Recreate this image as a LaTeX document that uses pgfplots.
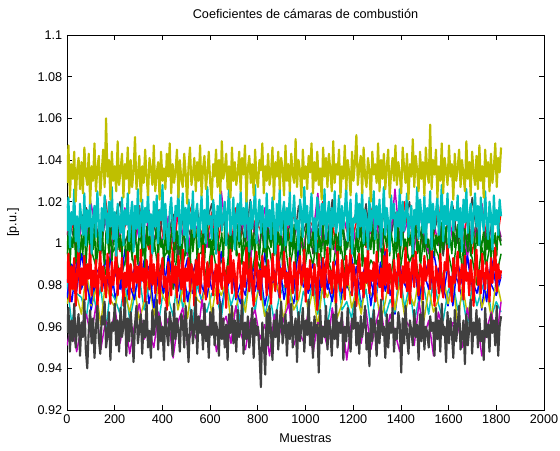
\documentclass[border=0pt]{standalone}
\usepackage{pgfplots}
\pgfplotsset{compat=1.18}
\usepackage{fontspec}
\setmainfont{Liberation Sans}
\definecolor{mb}{rgb}{0,0,1}
\definecolor{mg}{rgb}{0,0.5,0}
\definecolor{mr}{rgb}{1,0,0}
\definecolor{mc}{rgb}{0,0.75,0.75}
\definecolor{mm}{rgb}{0.75,0,0.75}
\definecolor{my}{rgb}{0.75,0.75,0}
\definecolor{mk}{rgb}{0.25,0.25,0.25}
\newcommand{\fs}{\fontsize{9.5}{11}\selectfont}
\begin{document}
\begin{tikzpicture}
\begin{axis}[
  name=ax,
  scale only axis,
  width=357.75pt, height=281.25pt,
  xmin=0, xmax=2000, ymin=0.92, ymax=1.1,
  xtick={0,200,...,2000},
  ytick={0.92,0.94,...,1.1},
  tick align=inside,
  major tick length=3.8pt,
  axis line style={line width=0.5pt},
  every tick/.style={black, line width=0.5pt},
  /pgf/number format/assume math mode=true,
  /pgf/number format/1000 sep={},
  yticklabel style={/pgf/number format/fixed, /pgf/number format/precision=2},
  tick label style={font=\fs},
  title={Coeficientes de cámaras de combustión},
  xlabel={Muestras},
  ylabel={[p.u.]},
  every axis title/.style={at={(axis description cs:0.5,1.056)}, anchor=center, font=\fs},
  every axis x label/.style={at={(axis description cs:0.5,-0.0747)}, anchor=center, font=\fs},
  every axis y label/.style={at={(axis description cs:-0.113,0.5)}, rotate=90, anchor=center, font=\fs},
  every axis plot/.append style={line width=1.1pt, line join=round},
  main/.style={line width=1.6pt},
  no markers,
]
% chamber 1
\addplot[mb] table[x expr=\coordindex*20.2222, y index=0, header=false] {
0.983
0.972
0.991
0.978
0.986
0.968
0.981
0.989
0.975
0.994
0.973
0.984
0.970
0.982
0.988
0.977
0.992
0.971
0.985
0.979
0.990
0.974
0.987
0.969
0.983
0.993
0.976
0.980
0.972
0.989
0.978
0.986
0.967
0.984
0.991
0.973
0.981
0.975
0.995
0.977
0.988
0.970
0.982
0.987
0.974
0.992
0.979
0.971
0.985
0.990
0.976
0.983
0.968
0.988
0.978
0.986
0.993
0.973
0.980
0.975
0.989
0.969
0.984
0.982
0.972
0.991
0.977
0.987
0.966
0.985
0.981
0.974
0.990
0.971
0.983
0.992
0.976
0.988
0.979
0.970
0.986
0.982
0.973
0.994
0.977
0.985
0.968
0.989
0.980
0.975
0.984
};
% chamber 2
\addplot[mg] table[x expr=\coordindex*20.2222, y index=0, header=false] {
0.996
0.987
0.992
1.001
0.980
0.997
0.989
1.006
0.985
0.994
0.998
0.982
0.991
1.000
0.988
1.004
0.995
0.983
1.002
0.986
0.993
0.997
0.978
0.999
0.989
1.003
0.984
0.994
0.996
0.981
1.001
0.987
0.992
0.985
1.005
0.998
0.990
1.000
0.980
0.995
0.988
1.002
0.997
0.983
0.991
1.004
0.986
0.999
0.994
0.982
1.000
0.989
1.007
0.987
0.993
0.985
1.003
0.996
0.979
0.998
0.990
1.001
0.984
0.992
0.988
1.005
0.995
0.981
0.999
0.986
1.002
0.991
0.997
0.983
1.004
0.989
1.000
0.994
0.982
0.996
0.985
1.006
0.987
1.001
0.993
0.980
0.998
0.990
1.003
0.984
0.995
};
% chamber 3
\addplot[mr] table[x expr=\coordindex*20.2222, y index=0, header=false] {
1.004
1.012
0.993
1.010
1.017
0.999
1.007
1.001
1.021
1.003
1.014
0.996
1.008
1.013
1.000
1.018
1.005
0.997
1.011
1.016
1.002
1.009
0.994
1.014
1.004
1.012
1.019
0.999
1.006
1.001
1.015
0.995
1.010
1.008
0.998
1.017
1.003
1.013
0.992
1.011
1.007
1.000
1.016
0.997
1.009
1.018
1.002
1.014
1.005
0.996
1.012
1.008
0.999
1.020
1.003
1.011
0.994
1.015
1.006
1.001
1.010
1.009
0.998
1.017
1.004
1.012
0.994
1.007
1.015
1.001
1.020
0.999
1.010
0.996
1.008
1.014
1.003
1.018
0.997
1.011
1.005
1.016
1.000
1.013
0.995
1.009
1.019
1.002
1.006
0.998
1.015
};
% chamber 4
\addplot[mc] table[x expr=\coordindex*20.2222, y index=0, header=false] {
0.981
0.961
0.976
0.974
0.964
0.983
0.969
0.979
0.958
0.977
0.973
0.966
0.982
0.963
0.975
0.984
0.968
0.980
0.971
0.962
0.978
0.974
0.965
0.986
0.969
0.977
0.960
0.981
0.972
0.967
0.976
0.975
0.964
0.983
0.970
0.978
0.960
0.973
0.981
0.967
0.986
0.965
0.976
0.962
0.974
0.980
0.969
0.984
0.963
0.977
0.971
0.982
0.966
0.979
0.961
0.975
0.985
0.968
0.972
0.964
0.981
0.970
0.978
0.959
0.976
0.983
0.965
0.973
0.967
0.987
0.969
0.980
0.962
0.974
0.979
0.966
0.984
0.971
0.963
0.977
0.982
0.968
0.975
0.960
0.980
0.970
0.978
0.985
0.965
0.972
0.967
};
% chamber 5
\addplot[mm] table[x expr=\coordindex*20.2222, y index=0, header=false] {
1.004
1.015
0.996
1.009
1.001
1.019
1.006
0.998
1.012
0.993
1.014
1.003
1.017
1.005
0.999
1.010
0.995
1.016
1.002
1.008
0.997
1.013
1.000
1.018
1.004
0.994
1.011
1.007
1.015
0.998
1.009
1.001
1.025
1.003
0.996
1.014
1.006
1.012
0.992
1.010
0.999
1.017
1.005
1.000
1.013
0.995
1.008
1.016
1.002
0.997
1.011
1.004
1.024
0.999
1.009
1.001
0.994
1.014
1.007
1.012
0.998
1.018
1.003
1.005
1.015
0.996
1.010
1.000
1.026
1.002
1.006
1.013
0.997
1.016
1.004
0.995
1.011
0.999
1.008
1.017
1.001
1.005
1.014
0.993
1.010
1.002
1.019
0.998
1.007
1.012
1.003
};
% chamber 6
\addplot[my] table[x expr=\coordindex*20.2222, y index=0, header=false] {
0.971
0.980
0.975
0.966
0.987
0.970
0.978
0.961
0.982
0.973
0.969
0.985
0.976
0.967
0.979
0.963
0.972
0.984
0.965
0.981
0.974
0.970
0.989
0.968
0.978
0.964
0.983
0.973
0.971
0.986
0.966
0.980
0.975
0.982
0.962
0.969
0.977
0.967
0.987
0.972
0.979
0.965
0.970
0.984
0.976
0.963
0.981
0.968
0.973
0.985
0.967
0.978
0.960
0.980
0.974
0.982
0.964
0.971
0.988
0.969
0.977
0.966
0.983
0.975
0.979
0.962
0.972
0.986
0.968
0.981
0.965
0.976
0.970
0.984
0.963
0.978
0.967
0.973
0.985
0.971
0.982
0.961
0.980
0.966
0.974
0.987
0.969
0.977
0.964
0.983
0.972
};
% chamber 7
\addplot[mk] table[x expr=\coordindex*20.2222, y index=0, header=false] {
1.019
1.006
0.998
1.012
1.017
1.003
1.010
0.995
1.015
1.005
1.013
1.020
1.000
1.007
1.002
1.016
0.996
1.011
1.009
0.999
1.018
1.004
1.014
0.993
1.012
1.008
1.001
1.017
0.998
1.010
1.019
1.003
1.015
1.006
0.997
1.013
1.009
1.000
1.021
1.004
1.012
0.995
1.016
1.007
1.002
1.011
1.010
0.999
1.018
1.005
1.013
0.995
1.008
1.016
1.002
1.021
1.000
1.011
0.997
1.009
1.015
1.004
1.019
0.998
1.012
1.006
1.017
1.001
1.014
0.996
1.010
1.020
1.003
1.007
0.999
1.016
1.005
1.013
0.994
1.011
1.018
1.000
1.008
1.002
1.022
1.004
1.015
0.997
1.009
1.014
1.001
};
% chamber 8
\addplot[mb] table[x expr=\coordindex*20.2222, y index=0, header=false] {
0.974
0.990
0.977
0.995
0.981
0.971
0.988
0.984
0.992
0.975
0.986
0.978
0.997
0.980
0.973
0.991
0.983
0.989
0.969
0.987
0.976
0.994
0.982
0.977
0.990
0.972
0.985
0.993
0.979
0.974
0.988
0.981
0.996
0.976
0.986
0.978
0.971
0.991
0.984
0.989
0.975
0.995
0.980
0.982
0.992
0.973
0.987
0.977
0.998
0.979
0.983
0.990
0.974
0.993
0.981
0.972
0.988
0.976
0.985
0.994
0.978
0.982
0.991
0.970
0.987
0.979
0.996
0.975
0.984
0.989
0.980
0.981
0.992
0.973
0.986
0.978
0.996
0.983
0.975
0.989
0.970
0.991
0.980
0.994
0.982
0.976
0.987
0.972
0.993
0.979
0.985
};
% chamber 9
\addplot[mg] table[x expr=\coordindex*6.06667, y index=0, header=false] {
0.995
1.007
0.988
1.003
0.998
1.010
0.991
1.001
1.006
0.993
1.004
0.996
1.011
0.989
1.000
1.008
0.992
1.005
0.997
1.009
0.987
1.002
1.007
0.994
1.012
0.999
0.990
1.006
1.003
0.995
1.009
0.991
1.001
1.005
0.988
1.010
0.997
1.004
0.993
1.008
1.000
0.989
1.006
0.996
1.011
0.992
1.003
1.007
0.998
0.990
1.005
1.010
0.994
1.001
0.987
1.008
0.999
1.004
0.992
1.012
0.996
1.003
1.009
0.990
1.006
0.998
1.002
0.988
1.010
0.995
1.007
0.993
1.004
1.011
0.991
1.000
1.006
0.997
1.009
0.989
1.002
1.008
0.994
1.005
0.999
0.986
1.010
0.996
1.003
1.007
0.992
1.001
1.009
0.995
1.006
0.990
1.004
1.011
0.998
1.002
0.988
1.007
0.997
1.003
1.010
0.993
1.000
1.005
0.991
1.008
0.999
1.004
0.989
1.012
0.996
1.002
1.007
0.994
1.009
0.998
1.006
0.990
1.003
1.008
0.995
1.001
0.987
1.010
0.997
1.005
0.993
1.009
1.000
0.992
1.006
1.011
0.996
1.003
0.989
1.007
1.002
0.998
1.010
0.994
1.005
0.991
1.008
0.999
1.004
0.988
1.011
0.996
1.001
1.007
0.993
1.004
0.997
1.009
0.990
1.003
1.006
0.992
1.008
1.000
0.987
1.005
1.010
0.995
1.002
0.998
1.009
0.994
1.004
0.989
1.007
1.001
0.996
1.012
0.993
1.003
0.999
1.006
0.991
1.010
0.997
1.002
1.008
0.988
1.005
0.995
1.004
1.009
0.992
1.001
0.998
1.011
0.994
1.006
1.000
0.990
1.007
0.996
1.003
1.010
0.989
1.005
0.999
1.008
0.993
1.002
0.997
1.011
0.995
1.004
1.006
0.991
1.009
1.000
0.987
1.007
1.003
0.998
1.010
0.994
1.005
1.001
0.992
1.008
0.996
1.012
0.990
1.004
1.007
0.997
1.002
0.993
1.009
0.999
1.006
0.988
1.005
1.010
0.995
1.001
0.991
1.008
1.003
0.996
1.011
0.998
1.002
0.989
1.006
1.009
0.994
1.004
0.999
1.007
0.992
1.010
0.997
1.003
1.008
0.990
1.005
1.001
0.995
1.011
0.998
1.004
1.009
0.993
1.000
1.006
0.988
1.007
1.002
0.996
1.010
0.994
1.003
1.008
0.991
1.005
0.999
1.012
0.995
1.001
1.006
0.990
1.007
0.997
1.004
0.992
1.009
1.000
1.005
0.994
1.008
1.002
0.999
};
% chamber 10
\addplot[mr, main] table[x expr=\coordindex*6.06667, y index=0, header=false] {
0.981
0.995
0.972
0.989
0.978
0.993
0.970
0.986
0.997
0.976
0.988
0.980
0.994
0.973
0.990
0.983
0.999
0.975
0.987
0.979
0.992
0.969
0.985
0.996
0.977
0.989
0.982
0.974
0.995
0.984
0.971
0.991
0.980
0.987
0.998
0.975
0.988
0.983
0.993
0.970
0.986
0.979
0.996
0.973
0.990
0.984
0.977
0.994
0.981
0.989
0.974
0.997
0.982
0.988
0.972
0.992
0.985
0.978
0.999
0.980
0.990
0.976
0.987
0.995
0.971
0.986
0.993
0.979
0.984
0.968
0.991
0.983
0.975
0.996
0.981
0.989
0.974
0.994
0.985
0.978
0.997
0.972
0.988
0.982
0.993
0.977
0.990
0.986
0.970
0.992
0.980
0.995
0.976
0.987
0.999
0.983
0.973
0.991
0.979
0.988
0.994
0.975
0.984
0.990
0.971
0.996
0.982
0.978
0.993
0.986
0.969
0.989
0.981
0.997
0.976
0.992
0.985
0.974
0.988
0.995
0.983
0.972
0.991
0.979
0.998
0.986
0.977
0.993
0.980
0.970
0.990
0.996
0.978
0.987
0.973
0.994
0.984
0.989
0.975
0.992
0.981
0.971
0.995
0.985
0.977
0.990
0.999
0.974
0.988
0.983
0.996
0.979
0.986
0.970
0.993
0.982
0.976
0.991
0.987
0.973
0.989
0.994
0.980
0.985
0.997
0.972
0.988
0.978
0.992
0.984
0.975
0.990
0.983
0.968
0.995
0.986
0.979
0.993
0.974
0.989
0.998
0.981
0.987
0.976
0.991
0.984
0.971
0.996
0.982
0.977
0.992
0.985
0.973
0.994
0.980
0.988
0.997
0.975
0.990
0.983
0.970
0.989
0.995
0.978
0.986
0.974
0.993
0.981
0.999
0.976
0.987
0.982
0.991
0.972
0.996
0.984
0.979
0.988
0.973
0.994
0.980
0.997
0.976
0.990
0.985
0.969
0.992
0.983
0.978
0.995
0.986
0.974
0.989
0.981
0.998
0.977
0.991
0.971
0.987
0.993
0.979
0.996
0.984
0.975
0.990
0.988
0.973
0.994
0.982
0.986
0.992
0.978
0.997
0.983
0.970
0.989
0.985
0.976
0.995
0.980
0.974
0.991
0.987
0.999
0.979
0.984
0.972
0.993
0.981
0.988
0.996
0.977
0.985
0.990
0.973
0.994
0.982
0.986
0.975
0.992
0.983
0.970
0.989
0.997
0.980
0.987
0.976
0.995
0.984
0.978
0.991
0.985
0.972
0.993
0.981
0.989
0.998
0.977
0.990
0.983
0.987
};
% chamber 11
\addplot[mc, main] table[x expr=\coordindex*6.06667, y index=0, header=false] {
1.006
1.022
0.998
1.015
1.009
1.026
1.001
1.013
0.996
1.019
1.011
1.004
1.024
0.999
1.016
1.008
1.021
0.995
1.012
1.018
1.003
1.025
1.010
0.997
1.017
1.006
1.023
1.014
1.000
1.020
1.008
1.027
1.002
1.015
0.994
1.019
1.011
1.005
1.022
0.999
1.016
1.009
1.024
1.001
1.013
1.020
0.996
1.018
1.007
1.026
1.003
1.012
1.021
0.998
1.017
1.010
1.025
1.004
1.014
0.995
1.020
1.008
1.023
1.000
1.016
1.011
1.028
1.002
1.019
1.006
0.997
1.015
1.022
1.009
1.001
1.018
1.013
1.026
0.999
1.012
1.024
1.004
1.017
0.996
1.021
1.010
1.007
1.025
1.003
1.014
1.019
0.998
1.011
1.023
1.005
1.016
1.000
1.027
1.009
1.013
1.002
1.021
1.015
0.995
1.018
1.008
1.024
1.006
1.012
1.020
0.999
1.016
1.026
1.004
1.010
1.022
0.997
1.014
1.019
1.001
1.025
1.009
1.017
1.003
1.023
1.011
0.996
1.020
1.007
1.015
1.028
1.000
1.013
1.021
1.005
1.018
1.010
0.998
1.024
1.008
1.016
1.002
1.022
1.012
0.995
1.019
1.006
1.026
1.004
1.014
1.020
0.999
1.017
1.009
1.025
1.001
1.013
1.023
1.007
1.011
0.997
1.021
1.015
1.003
1.027
1.010
1.018
1.000
1.014
1.024
1.006
1.012
0.996
1.022
1.016
1.004
1.019
1.009
1.026
1.002
1.013
1.020
0.998
1.017
1.008
1.025
1.005
1.011
1.023
0.999
1.018
1.007
1.015
1.028
1.001
1.014
1.021
0.995
1.012
1.010
1.024
1.003
1.019
1.008
1.026
1.000
1.016
1.011
0.997
1.022
1.006
1.014
1.025
1.002
1.018
1.009
1.021
0.998
1.013
1.027
1.004
1.017
1.010
0.996
1.023
1.012
1.019
1.001
1.015
1.008
1.026
0.999
1.020
1.006
1.014
1.024
1.003
1.011
1.018
0.995
1.016
1.009
1.027
1.002
1.021
1.013
1.005
1.023
1.000
1.017
1.010
1.025
0.997
1.019
1.007
1.015
1.022
1.004
1.012
1.028
1.001
1.018
1.009
1.024
0.998
1.014
1.020
1.006
1.016
1.011
1.023
1.003
1.017
0.996
1.021
1.010
1.026
1.005
1.013
1.019
1.000
1.015
1.024
1.008
1.018
0.999
1.022
1.012
1.006
1.025
1.011
1.002
1.020
1.014
0.997
1.023
1.009
1.016
1.004
1.021
1.013
};
% chamber 12
\addplot[mm] table[x expr=\coordindex*20.2222, y index=0, header=false] {
0.951
0.962
0.948
0.960
0.966
0.955
0.970
0.949
0.963
0.957
0.968
0.952
0.965
0.947
0.961
0.971
0.954
0.958
0.950
0.967
0.956
0.964
0.945
0.962
0.969
0.951
0.959
0.953
0.973
0.955
0.966
0.948
0.960
0.965
0.952
0.970
0.957
0.949
0.963
0.968
0.954
0.961
0.946
0.966
0.956
0.964
0.971
0.951
0.958
0.953
0.967
0.947
0.962
0.960
0.950
0.969
0.955
0.965
0.944
0.963
0.959
0.952
0.968
0.949
0.961
0.970
0.954
0.966
0.957
0.948
0.964
0.960
0.951
0.972
0.955
0.963
0.946
0.967
0.958
0.953
0.962
0.961
0.950
0.969
0.956
0.964
0.946
0.959
0.967
0.953
0.972
};
% chamber 13
\addplot[my, main] table[x expr=\coordindex*6.06667, y index=0, header=false] {
1.029
1.047
1.022
1.038
1.031
1.044
1.020
1.035
1.041
1.026
1.039
1.024
1.046
1.033
1.028
1.043
1.019
1.037
1.030
1.048
1.025
1.036
1.042
1.023
1.034
1.045
1.027
1.060
1.032
1.040
1.021
1.044
1.030
1.037
1.025
1.049
1.028
1.035
1.043
1.022
1.038
1.031
1.046
1.024
1.040
1.027
1.035
1.051
1.026
1.033
1.042
1.020
1.037
1.029
1.045
1.032
1.023
1.041
1.036
1.028
1.047
1.025
1.034
1.039
1.021
1.044
1.030
1.036
1.026
1.043
1.032
1.048
1.024
1.038
1.029
1.035
1.045
1.022
1.040
1.031
1.027
1.043
1.034
1.019
1.037
1.046
1.028
1.033
1.041
1.025
1.039
1.030
1.047
1.023
1.036
1.042
1.026
1.034
1.044
1.029
1.021
1.038
1.032
1.045
1.027
1.040
1.024
1.049
1.031
1.035
1.043
1.026
1.037
1.022
1.046
1.030
1.039
1.028
1.034
1.044
1.025
1.041
1.033
1.047
1.020
1.036
1.042
1.029
1.038
1.023
1.045
1.031
1.027
1.040
1.035
1.048
1.024
1.037
1.030
1.043
1.028
1.034
1.046
1.021
1.039
1.032
1.044
1.026
1.041
1.036
1.023
1.047
1.030
1.038
1.025
1.043
1.033
1.029
1.050
1.027
1.040
1.035
1.022
1.045
1.031
1.037
1.026
1.042
1.034
1.048
1.024
1.039
1.030
1.044
1.028
1.036
1.021
1.046
1.032
1.041
1.027
1.043
1.035
1.025
1.049
1.029
1.038
1.033
1.045
1.022
1.037
1.031
1.047
1.026
1.040
1.034
1.023
1.044
1.030
1.039
1.052
1.028
1.036
1.042
1.024
1.046
1.032
1.027
1.041
1.035
1.020
1.044
1.033
1.038
1.029
1.048
1.025
1.040
1.031
1.043
1.026
1.037
1.045
1.022
1.034
1.041
1.030
1.047
1.028
1.039
1.033
1.024
1.046
1.036
1.029
1.043
1.021
1.038
1.032
1.050
1.027
1.042
1.035
1.025
1.044
1.031
1.039
1.023
1.046
1.034
1.029
1.057
1.026
1.040
1.033
1.045
1.022
1.037
1.030
1.048
1.024
1.041
1.035
1.028
1.047
1.032
1.038
1.021
1.043
1.030
1.036
1.045
1.027
1.040
1.033
1.025
1.049
1.031
1.039
1.023
1.044
1.034
1.028
1.042
1.026
1.047
1.030
1.037
1.022
1.045
1.032
1.039
1.025
1.043
1.029
1.036
1.048
1.027
1.041
1.034
1.046
};
% chamber 14
\addplot[mk, main] table[x expr=\coordindex*6.06667, y index=0, header=false] {
0.957
0.969
0.948
0.963
0.953
0.971
0.950
0.960
0.966
0.946
0.962
0.955
0.973
0.949
0.940
0.958
0.968
0.952
0.964
0.945
0.959
0.970
0.954
0.947
0.965
0.961
0.972
0.950
0.956
0.967
0.944
0.962
0.958
0.971
0.951
0.963
0.948
0.969
0.955
0.960
0.974
0.946
0.964
0.953
0.967
0.957
0.943
0.961
0.970
0.952
0.959
0.966
0.947
0.963
0.955
0.972
0.950
0.958
0.945
0.968
0.956
0.962
0.973
0.949
0.965
0.953
0.960
0.944
0.969
0.957
0.951
0.967
0.961
0.946
0.971
0.954
0.964
0.958
0.948
0.966
0.963
0.950
0.970
0.955
0.943
0.962
0.968
0.952
0.959
0.974
0.947
0.965
0.957
0.963
0.949
0.971
0.953
0.960
0.945
0.967
0.956
0.969
0.951
0.962
0.958
0.946
0.972
0.954
0.964
0.950
0.961
0.944
0.966
0.957
0.970
0.952
0.963
0.948
0.968
0.955
0.959
0.973
0.947
0.962
0.954
0.965
0.950
0.958
0.969
0.945
0.964
0.956
0.960
0.948
0.931
0.962
0.953
0.937
0.967
0.951
0.970
0.957
0.944
0.963
0.955
0.968
0.949
0.961
0.972
0.952
0.958
0.966
0.946
0.962
0.954
0.971
0.950
0.959
0.964
0.943
0.967
0.953
0.960
0.969
0.948
0.963
0.956
0.973
0.951
0.962
0.945
0.965
0.957
0.961
0.938
0.968
0.952
0.960
0.955
0.970
0.949
0.963
0.958
0.946
0.966
0.954
0.971
0.950
0.962
0.957
0.967
0.944
0.960
0.953
0.969
0.956
0.948
0.964
0.959
0.972
0.951
0.962
0.947
0.965
0.955
0.961
0.970
0.949
0.957
0.941
0.964
0.953
0.968
0.958
0.946
0.963
0.952
0.973
0.956
0.960
0.945
0.966
0.950
0.962
0.957
0.969
0.948
0.959
0.954
0.967
0.961
0.938
0.964
0.952
0.970
0.956
0.947
0.963
0.958
0.951
0.968
0.955
0.961
0.944
0.966
0.953
0.972
0.949
0.960
0.957
0.950
0.965
0.958
0.962
0.946
0.969
0.954
0.963
0.948
0.971
0.956
0.960
0.943
0.967
0.952
0.964
0.957
0.945
0.968
0.953
0.961
0.970
0.949
0.955
0.963
0.942
0.966
0.951
0.959
0.973
0.947
0.962
0.956
0.968
0.950
0.964
0.953
0.958
0.944
0.969
0.955
0.961
0.948
0.966
0.957
0.963
0.951
0.970
0.946
0.960
0.965
};
\end{axis}
\pgfresetboundingbox
\path ([xshift=-50.25pt,yshift=-30pt]ax.south west) rectangle ([xshift=12pt,yshift=26.25pt]ax.north east);
\end{tikzpicture}
\end{document}
